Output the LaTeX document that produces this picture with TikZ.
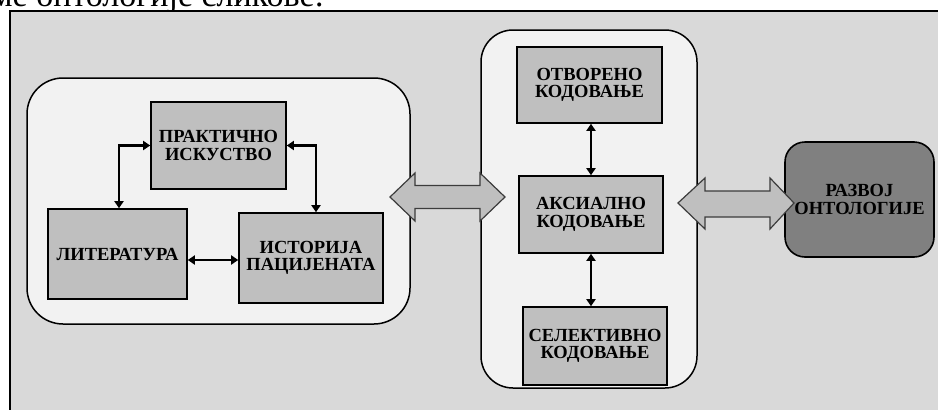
\documentclass[tikz,border=0pt]{standalone}
\usepackage{fontspec}
\setmainfont{Liberation Serif}
\usetikzlibrary{arrows.meta}
\definecolor{framebg}{RGB}{217,217,217}
\definecolor{contbg}{RGB}{242,242,242}
\definecolor{boxbg}{RGB}{191,191,191}
\definecolor{darkbox}{RGB}{128,128,128}
\definecolor{arrowedge}{RGB}{60,60,60}
\tikzset{
  stepbox/.style={draw=black, line width=1.6pt, fill=boxbg, inner sep=0pt, align=center,
    font=\bfseries\fontsize{18.5}{17.5}\selectfont},
  container/.style={draw=black, line width=1.5pt, fill=contbg, rounded corners=36pt},
  dbl/.style={line width=2.6pt, {Triangle[length=7pt,width=9pt]}-{Triangle[length=7pt,width=9pt]}},
  blockarrow/.style={draw=arrowedge, line width=1.2pt, fill=boxbg, line join=miter},
}
\begin{document}
\begin{tikzpicture}[x=1pt,y=-1pt]
\useasboundingbox (0,0) rectangle (938,410);
\clip (0,0) rectangle (938,410);
% cut-off caption text at the top
\node[anchor=base west, inner sep=0pt, font=\fontsize{34}{34}\selectfont] (cap) at (-9,6) {ме онтологије сликове:};
% outer frame
\draw[line width=1.8pt, fill=framebg] (10,420) -- (10,11) -- (950,11) -- (950,420) -- cycle;
% containers
\draw[container] (27,78) rectangle (410,324);
\draw[container, rounded corners=32pt] (481,30) rectangle (697,388);
% left group
\node[stepbox, minimum width=135pt, minimum height=87pt] (prakt) at (218.5,145.5) {ПРАКТИЧНО\\ИСКУСТВО};
\node[stepbox, minimum width=139pt, minimum height=90pt] (lit) at (117.5,254) {ЛИТЕРАТУРА};
\node[stepbox, minimum width=144pt, minimum height=90pt] (ist) at (311,258) {ИСТОРИЈА\\ПАЦИЈЕНАТА};
\draw[dbl] (prakt.west) -| ([xshift=1.5pt]lit.north);
\draw[dbl] (prakt.east) -| ([xshift=5pt]ist.north);
\draw[dbl] (lit.east |- 0,260) -- (ist.west |- 0,260);
% middle group
\node[stepbox, minimum width=145pt, minimum height=76pt] (otv) at (589.5,85) {ОТВОРЕНО\\КОДОВАЊЕ};
\node[stepbox, minimum width=144pt, minimum height=77pt] (aks) at (591,214.5) {АКСИАЛНО\\КОДОВАЊЕ};
\node[stepbox, minimum width=144pt, minimum height=78pt] (sel) at (595,346) {СЕЛЕКТИВНО\\КОДОВАЊЕ};
\draw[dbl] (otv.south -| aks.north) -- (aks.north);
\draw[dbl] (aks.south) -- (aks.south |- sel.north);
% right box
\node[stepbox, fill=darkbox, rounded corners=20pt, minimum width=149pt, minimum height=115pt] (razvoj) at (859.5,199.5) {РАЗВОЈ\\ОНТОЛОГИЈЕ};
% block arrows
\draw[blockarrow] (390,197) -- (415,173) -- (415,185.5) -- (480,185.5) -- (480,173) -- (505,197)
  -- (480,221) -- (480,208.5) -- (415,208.5) -- (415,221) -- cycle;
\draw[blockarrow] (678,203) -- (705,178) -- (705,191) -- (770,191) -- (770,178) -- (794,203)
  -- (770,229) -- (770,217) -- (705,217) -- (705,229) -- cycle;
\end{tikzpicture}
\end{document}
